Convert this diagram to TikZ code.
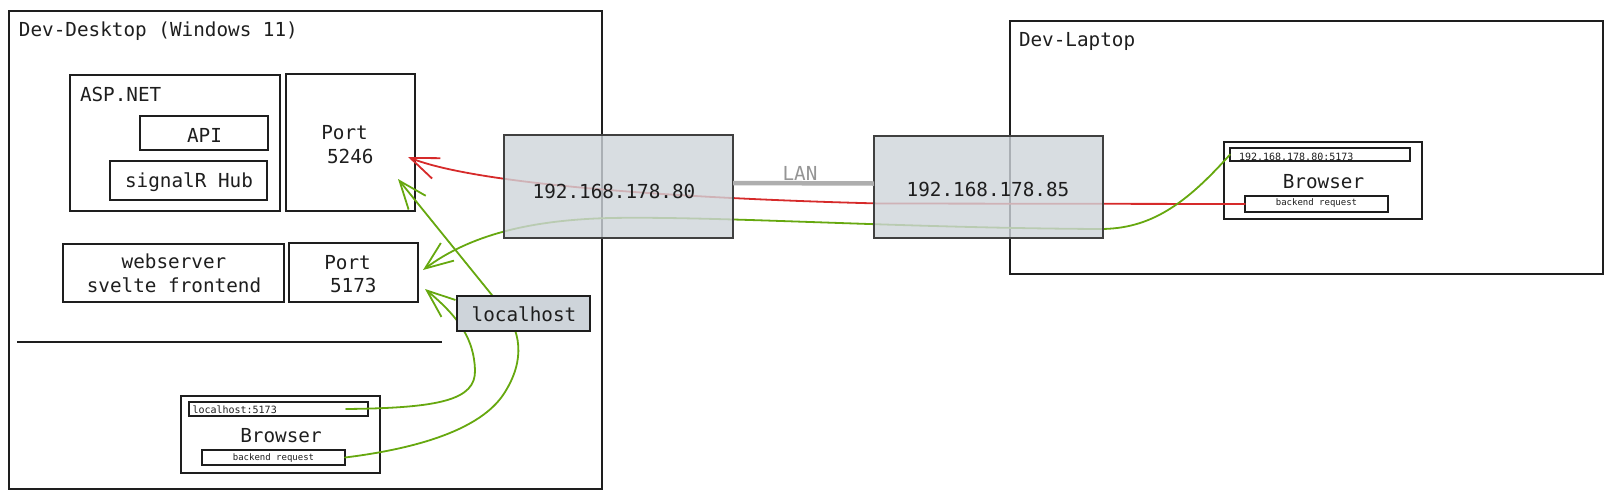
\documentclass[tikz,border=0pt]{standalone}
\usepackage{fontspec}
\setmainfont{DejaVu Sans Mono}
\usetikzlibrary{arrows.meta}
\definecolor{ink}{HTML}{1E1E1E}
\definecolor{boxgray}{HTML}{CED4DA}
\definecolor{linkred}{HTML}{D62A2A}
\definecolor{linkgreen}{HTML}{66A80F}
\definecolor{langray}{HTML}{AEAEAE}
\definecolor{lantext}{HTML}{959595}
\tikzset{
  boxframe/.style={draw=ink, line width=1.5pt, inner sep=0pt, outer sep=0pt, anchor=north west},
  ipbox/.style={boxframe, draw=ink!85, fill=boxgray, fill opacity=0.8},
  hostbox/.style={boxframe, fill=boxgray},
  bigtxt/.style={font=\fontsize{19.3}{23.5}\selectfont, text=ink, inner sep=0pt, outer sep=0pt},
  smalltxt/.style={font=\fontsize{10}{12}\selectfont, text=ink, inner sep=0pt, outer sep=0pt},
  tinytxt/.style={font=\fontsize{9}{11}\selectfont, text=ink, inner sep=0pt, outer sep=0pt},
  conn/.style={line width=1.8pt, line cap=round, line join=round},
  arrowtip/.style={-{Straight Barb[length=28pt,width=22pt]}},
  redconn/.style={conn, draw=linkred},
  greenconn/.style={conn, draw=linkgreen},
  lanline/.style={draw=langray, line width=4.5pt},
}
\begin{document}
\begin{tikzpicture}[x=1pt,y=-1pt]
\useasboundingbox (0,0) rectangle (1612,499);

% frames
\node[boxframe, minimum width=593pt, minimum height=478pt] (desk) at (9,11) {};
\node[boxframe, minimum width=593pt, minimum height=253pt] (lap) at (1010,21) {};
\node[boxframe, minimum width=210pt, minimum height=136pt] (asp) at (70,75) {};
\node[boxframe, minimum width=129pt, minimum height=137pt] (p5246) at (286,74) {};
\node[boxframe, minimum width=128pt, minimum height=34pt] (api) at (140,116) {};
\node[boxframe, minimum width=157pt, minimum height=39pt] (hub) at (110,161) {};
\node[boxframe, minimum width=221pt, minimum height=58pt] (web) at (63,244) {};
\node[boxframe, minimum width=129pt, minimum height=59pt] (p5173) at (289,243) {};
\node[boxframe, minimum width=199pt, minimum height=77pt] (dbrowser) at (181,396) {};
\node[boxframe, minimum width=179pt, minimum height=14pt] (dbar) at (189,402) {};
\node[boxframe, minimum width=143pt, minimum height=15pt] (dback) at (202,450) {};
\node[boxframe, minimum width=198pt, minimum height=77pt] (lbrowser) at (1224,142) {};
\node[boxframe, minimum width=180pt, minimum height=13pt] (lbar) at (1230,148) {};
\node[boxframe, minimum width=143pt, minimum height=16pt] (lback) at (1245,196) {};

% separator
\draw[ink, line width=2.6pt] (17,342) -- (442,342);

% texts
\node[bigtxt, anchor=base west] (deskt) at (19,36) {Dev-Desktop (Windows 11)};
\node[bigtxt, anchor=base west] (lapt) at (1019,46) {Dev-Laptop};
\node[bigtxt, anchor=base west] (aspt) at (80,101) {ASP.NET};
\node[bigtxt, anchor=base] (apit) at (204.5,142) {API};
\node[bigtxt, anchor=base] (hubt) at (189,187) {signalR Hub};
\node[bigtxt, align=center] (p5246t) at (344.5,144.5) {Port\\\hphantom{0}5246};
\node[bigtxt, align=center] (webt) at (174,273.5) {webserver\\svelte frontend};
\node[bigtxt, align=center] (p5173t) at (347.5,274) {Port\\\hphantom{0}5173};
\node[bigtxt, anchor=base] (dbrt) at (281,442.5) {Browser};
\node[smalltxt, anchor=base west] (dbart) at (192.5,413.3) {localhost:5173};
\node[tinytxt, anchor=base] (dbackt) at (273.5,460) {backend request};
\node[bigtxt, anchor=base] (lbrt) at (1323.5,188) {Browser};
\node[smalltxt, anchor=base west] (lbart) at (1239,160) {192.168.178.80:5173};
\node[tinytxt, anchor=base] (lbackt) at (1316.5,205.5) {backend request};

% arrow end points
\coordinate (t5246r) at (408,157);
\coordinate (t5246g) at (398,179);
\coordinate (t5173a) at (423,270);
\coordinate (t5173b) at (425,289);

% connectors
\draw[redconn, arrowtip] (lback.west) -- (880,203.5) .. controls (700,199) and (480,186) .. (t5246r);
\draw[greenconn, arrowtip] (lbar.west) .. controls (1185,205) and (1150,229) .. (1100,229)
   .. controls (900,228) and (720,216) .. (610,218)
   .. controls (530,220) and (470,235) .. (t5173a);
\draw[greenconn, arrowtip] ([xshift=-22pt]dbar.east) .. controls (440,408) and (476,400) .. (475,370)
   .. controls (474,340) and (460,318) .. (t5173b);
\draw[greenconn, arrowtip] (dback.east) .. controls (430,447) and (485,425) .. (505,392)
   .. controls (525,360) and (522,330) .. (500,305) -- (t5246g);

% ip boxes
\node[ipbox, minimum width=229pt, minimum height=103pt] (ip80) at (504,135) {};
\node[ipbox, minimum width=229pt, minimum height=102pt] (ip85) at (874,136) {};
\node[bigtxt, anchor=base] (ip80t) at (614,198.3) {192.168.178.80};
\node[bigtxt, anchor=base] (ip85t) at (988,196) {192.168.178.85};
\draw[lanline] ([yshift=3.5pt]ip80.east) -- node[bigtxt, text=lantext, anchor=base, yshift=2.3pt, xshift=-3.5pt] (lant) {LAN} ([yshift=3.5pt]ip85.west);

% localhost
\node[hostbox, minimum width=133pt, minimum height=35pt] (lh) at (457,296) {};
\node[bigtxt, anchor=base] (lht) at (524,321) {localhost};
\end{tikzpicture}
\end{document}
